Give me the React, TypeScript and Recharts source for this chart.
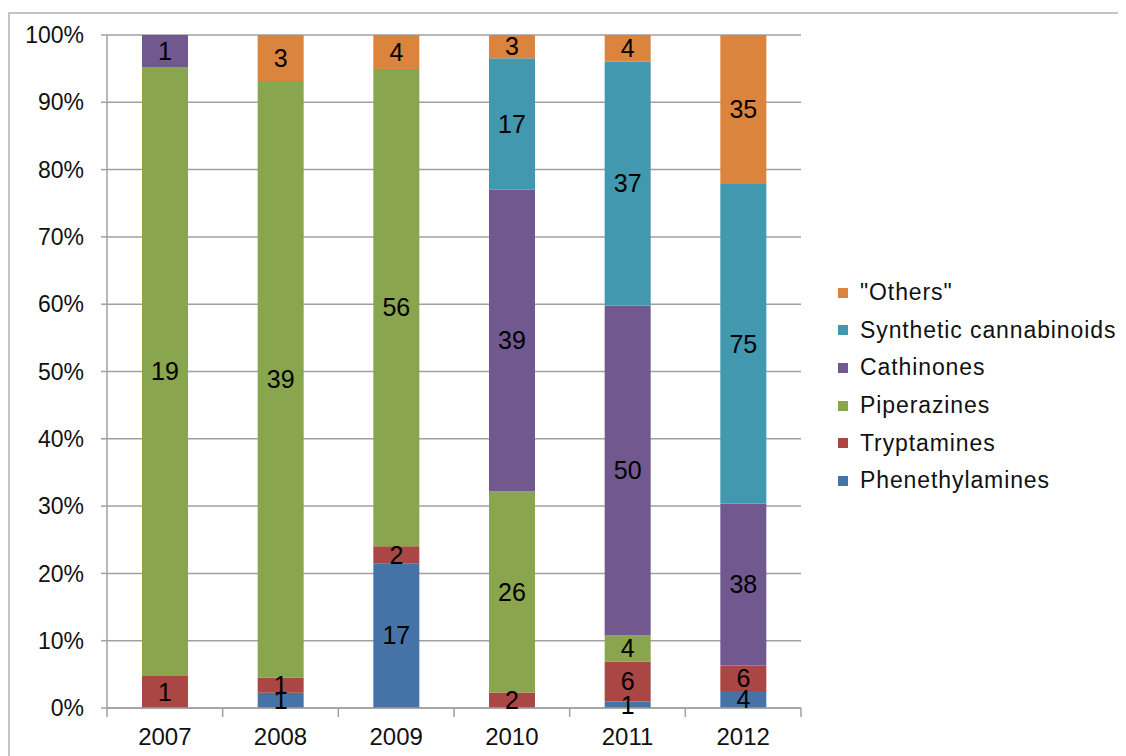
import React from 'react';
import {
  BarChart,
  Bar,
  XAxis,
  YAxis,
  CartesianGrid,
  LabelList
} from 'recharts';

// Number of new substances notified per year, by group
const years = ['2007', '2008', '2009', '2010', '2011', '2012'];
const phenethylamines = [0, 1, 17, 0, 1, 4];
const tryptamines = [1, 1, 2, 2, 6, 6];
const piperazines = [19, 39, 56, 26, 4, 0];
const cathinones = [1, 0, 0, 39, 50, 38];
const cannabinoids = [0, 0, 0, 17, 37, 75];
const others = [0, 3, 4, 3, 4, 35];

const yTicks = [0, 0.1, 0.2, 0.3, 0.4, 0.5, 0.6, 0.7, 0.8, 0.9, 1];

// stacking order, bottom to top
const series = [
  { key: 'phen', name: 'Phenethylamines', color: '#4572A7', values: phenethylamines },
  { key: 'tryp', name: 'Tryptamines', color: '#AA4643', values: tryptamines },
  { key: 'pip', name: 'Piperazines', color: '#89A54E', values: piperazines },
  { key: 'cath', name: 'Cathinones', color: '#71588F', values: cathinones },
  { key: 'synth', name: 'Synthetic cannabinoids', color: '#4198AF', values: cannabinoids },
  { key: 'other', name: '"Others"', color: '#DB843D', values: others }
];

const chartData = years.map((year, i) => {
  const row: Record<string, any> = { year };
  series.forEach(s => {
    row[s.key] = s.values[i];
  });
  return row;
});

const font = 'Arial, "Liberation Sans", sans-serif';
const gray = '#a0a0a0';

// year label plus Excel-style tick marks on the category boundaries
const YearTick = (props: any) => {
  const { x, y, payload, index, visibleTicksCount } = props;
  const half = payload.offset || 0;
  const last = index === visibleTicksCount - 1;
  return (
    <g>
      <line x1={x - half} x2={x - half} y1={y} y2={y + 9} stroke={gray} strokeWidth={1.5} />
      {last && <line x1={x + half} x2={x + half} y1={y} y2={y + 9} stroke={gray} strokeWidth={1.5} />}
      <text x={x} y={y + 20} dy="0.71em" textAnchor="middle" fill="#111" fontSize={24} fontFamily={font}>
        {payload.value}
      </text>
    </g>
  );
};

export default function App() {
  return (
    <div style={{ position: 'relative', width: 1118, height: 748, overflow: 'hidden', fontFamily: font }}>
      <div
        style={{
          position: 'absolute',
          left: 0,
          top: 4,
          width: 1200,
          height: 900,
          border: '2px solid #c4c4c4'
        }}
      />
      <div style={{ position: 'absolute', left: 0, top: 0 }}>
        <BarChart
          width={1118}
          height={748}
          data={chartData}
          stackOffset="expand"
          margin={{ top: 27, right: 325, left: 39, bottom: 18 }}
        >
          <CartesianGrid vertical={false} stroke={gray} strokeWidth={1.5} />
          <XAxis
            dataKey="year"
            stroke={gray}
            strokeWidth={1.5}
            tickLine={false}
            tickSize={0}
            tickMargin={0}
            height={30}
            interval={0}
            tick={<YearTick />}
          />
          <YAxis
            width={60}
            domain={[0, 1]}
            ticks={yTicks}
            tickFormatter={(v: number) => `${Math.round(v * 100)}%`}
            tickSize={6}
            tickMargin={17}
            stroke={gray}
            strokeWidth={1.5}
            tick={{ fill: '#111', fontSize: 23, fontFamily: font }}
          />
          {series.map(s => (
            <Bar
              key={s.key}
              dataKey={s.key}
              name={s.name}
              stackId="a"
              fill={s.color}
              barSize={46}
              isAnimationActive={false}
            >
              <LabelList
                dataKey={s.key}
                position="center"
                fill="#000"
                fontSize={25}
                fontFamily={font}
                formatter={(v: any) => (v ? v : '')}
              />
            </Bar>
          ))}
        </BarChart>
      </div>
      <div style={{ position: 'absolute', left: 830, top: 266 }}>
        {[...series].reverse().map(s => (
          <div key={s.key} style={{ display: 'flex', alignItems: 'center', height: 37.6 }}>
            <span style={{ width: 10, height: 10, background: s.color, marginRight: 12 }} />
            <span style={{ fontSize: 23, color: '#111', letterSpacing: 0.9 }}>{s.name}</span>
          </div>
        ))}
      </div>
    </div>
  );
}
